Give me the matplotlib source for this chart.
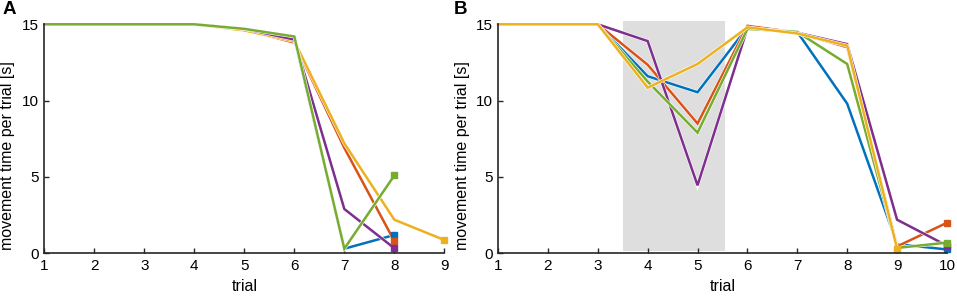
import matplotlib
matplotlib.use("Agg")
import matplotlib.pyplot as plt
import matplotlib.patheffects as pe
from matplotlib.patches import Rectangle

# MATLAB default colours
c_blue = "#0072BD"
c_red = "#D95319"
c_yellow = "#EDB120"
c_purple = "#7E2F8E"
c_green = "#77AC30"

# Panel A data (trials 1..9)
trialsA_8 = [1, 2, 3, 4, 5, 6, 7, 8]
trialsA_9 = [1, 2, 3, 4, 5, 6, 7, 8, 9]
A_blue = [15, 15, 15, 15, 14.7, 14.1, 0.3, 1.2]
A_red = [15, 15, 15, 15, 14.65, 13.8, 6.9, 0.8]
A_yellow = [15, 15, 15, 15, 14.6, 13.9, 7.2, 2.2, 0.87]
A_purple = [15, 15, 15, 15, 14.7, 14.0, 2.9, 0.33]
A_green = [15, 15, 15, 15, 14.7, 14.2, 0.3, 5.1]

# Panel B data (trials 1..10)
trialsB_9 = [1, 2, 3, 4, 5, 6, 7, 8, 9]
trialsB_10 = [1, 2, 3, 4, 5, 6, 7, 8, 9, 10]
B_blue = [15, 15, 15, 11.6, 10.55, 14.8, 14.5, 9.8, 0.6, 0.25]
B_red = [15, 15, 15, 12.35, 8.5, 14.9, 14.45, 13.5, 0.45, 2.0]
B_purple = [15, 15, 15, 13.9, 4.45, 14.75, 14.45, 13.7, 2.2, 0.5]
B_green = [15, 15, 15, 11.25, 7.9, 14.7, 14.5, 12.4, 0.35, 0.7]
B_yellow = [15, 15, 15, 10.85, 12.4, 14.8, 14.4, 13.6, 0.3]

# shaded trial range in panel B
shade_x = (3.5, 5.55)

plt.rcParams["font.family"] = ["Liberation Sans", "DejaVu Sans"]
plt.rcParams["font.size"] = 11

fig = plt.figure(figsize=(9.57, 2.96), dpi=100)
axA = fig.add_axes([0.0463, 0.1443, 0.418, 0.7736])
axB = fig.add_axes([0.5204, 0.1443, 0.4691, 0.7736])

halo = [pe.Stroke(linewidth=2.6, foreground="white"), pe.Normal()]


def draw(ax, x, y, color):
    ax.plot(x, y, color=color, lw=1.8, solid_joinstyle="miter", path_effects=halo,
            clip_on=False, zorder=3)
    ax.plot(x[-1], y[-1], marker="s", color=color, markersize=4.5, clip_on=False, zorder=4)


draw(axA, trialsA_8, A_blue, c_blue)
draw(axA, trialsA_8, A_red, c_red)
draw(axA, trialsA_9, A_yellow, c_yellow)
draw(axA, trialsA_8, A_purple, c_purple)
draw(axA, trialsA_8, A_green, c_green)

axB.add_patch(Rectangle((shade_x[0], 0.15), shade_x[1] - shade_x[0], 15.05,
                        facecolor="#dedede", edgecolor="none", clip_on=False, zorder=1))
draw(axB, trialsB_10, B_blue, c_blue)
draw(axB, trialsB_10, B_red, c_red)
draw(axB, trialsB_10, B_purple, c_purple)
draw(axB, trialsB_10, B_green, c_green)
draw(axB, trialsB_9, B_yellow, c_yellow)

for ax, xmax, lx in ((axA, 9, -0.073), (axB, 10, -0.062)):
    ax.set_xlim(1, xmax)
    ax.set_ylim(0, 15)
    ax.set_xticks(range(1, xmax + 1))
    ax.set_yticks([0, 5, 10, 15])
    ax.spines["top"].set_visible(False)
    ax.spines["right"].set_visible(False)
    for s in ("left", "bottom"):
        ax.spines[s].set_linewidth(1.2)
        ax.spines[s].set_color("#262626")
        ax.spines[s].set_zorder(5)
    ax.tick_params(direction="in", length=3.5, width=1.0, color="#262626",
                   labelsize=11, pad=4)
    ax.set_xlabel("trial", fontsize=11.5, labelpad=4.5)
    ax.set_ylabel("movement time per trial [s]", fontsize=11.5)
    ax.yaxis.set_label_coords(lx, 0.425)

fig.text(0.003, 0.995, "A", fontsize=13.5, fontweight="bold", va="top", ha="left")
fig.text(0.474, 0.995, "B", fontsize=13.5, fontweight="bold", va="top", ha="left")

plt.savefig("out.png", dpi=100)
